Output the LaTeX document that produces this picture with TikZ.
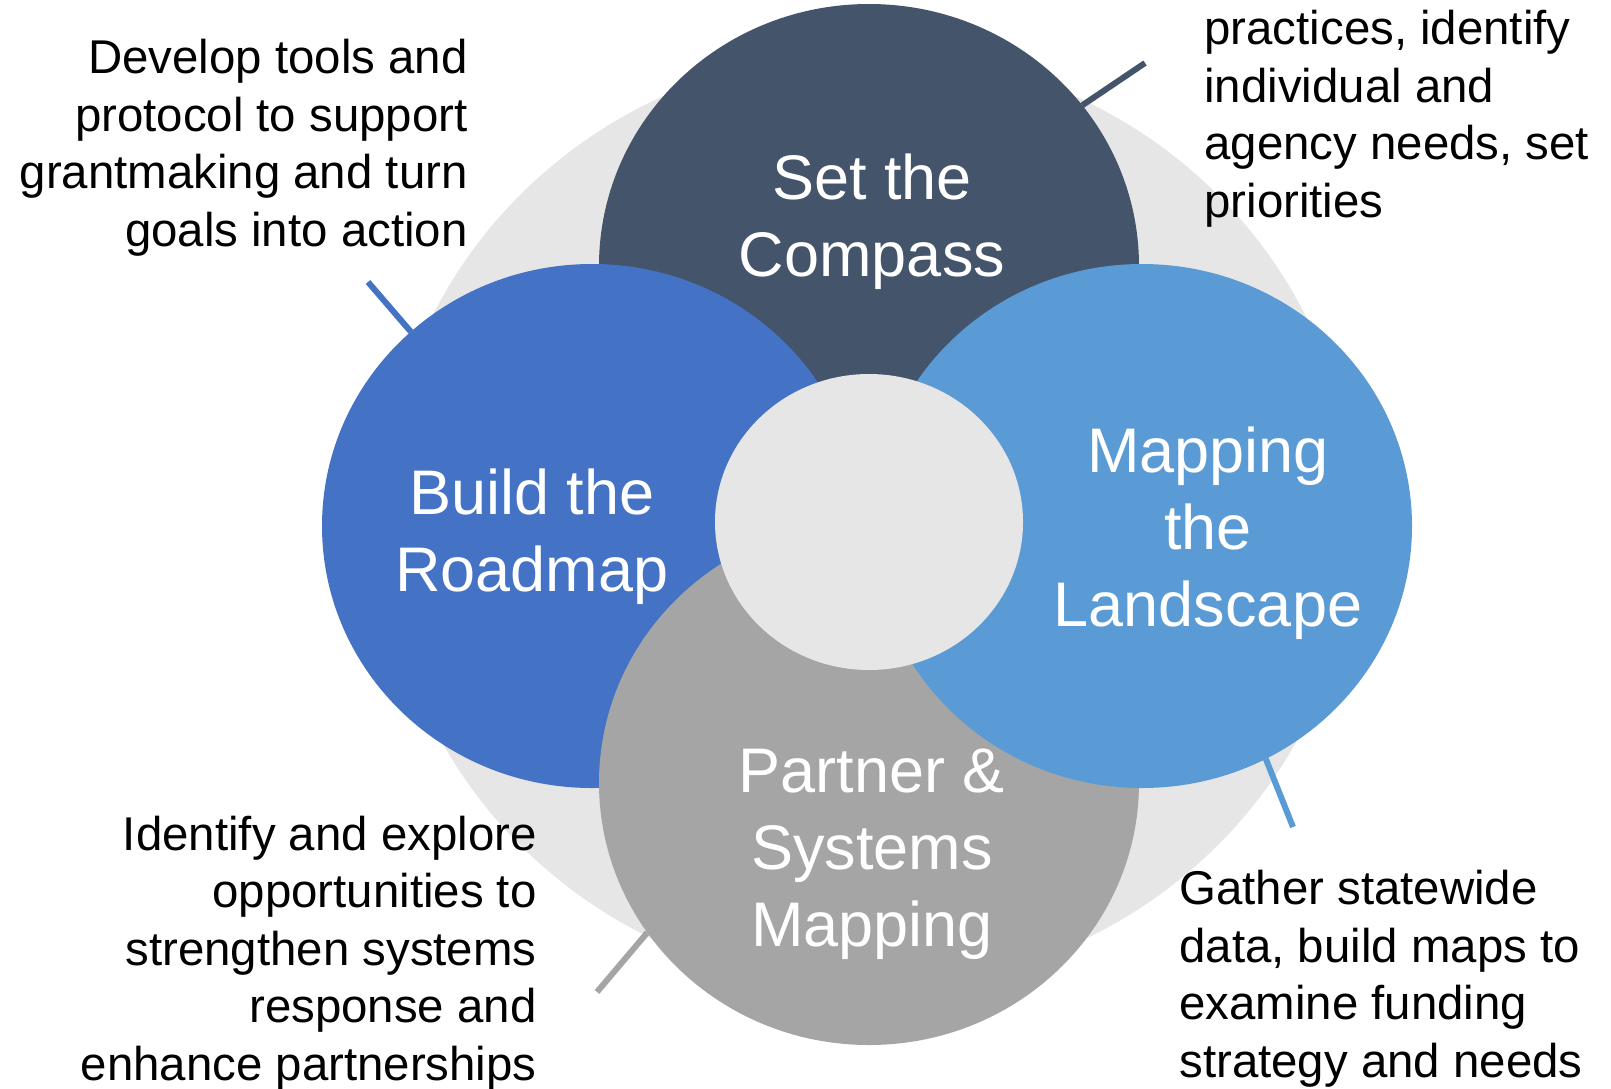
\documentclass[tikz,border=0pt]{standalone}
\usepackage{fontspec}
\setmainfont{Liberation Sans}
\usetikzlibrary{shapes.geometric}

\definecolor{compassFill}{HTML}{44546A}
\definecolor{roadmapFill}{HTML}{4472C4}
\definecolor{landscapeFill}{HTML}{5B9BD5}
\definecolor{partnerFill}{HTML}{A5A5A5}
\definecolor{hazeFill}{HTML}{E7E6E6}

\begin{document}
\begin{tikzpicture}
    [x=0.5pt,y=-0.5pt,
      disc/.style={ellipse,inner sep=0pt,outer sep=0pt,
        minimum width=270pt,minimum height=262pt},
      title/.style={text=white,align=center,inner sep=0pt,
        font=\fontsize{31.5}{38.5}\selectfont},
      note/.style={text=black,inner sep=0pt,
        font=\fontsize{23.7}{28.7}\selectfont},
      tick/.style={line width=3pt}
    ]
    \useasboundingbox (0,0) rectangle (1611,1088);

    \node [ellipse,inner sep=0pt,fill=hazeFill,minimum width=485pt,
      minimum height=468pt] (back) at (869,520) {};
    \node [disc,fill=compassFill] (compass) at (869,266) {};
    \node [disc,fill=roadmapFill] (roadmap) at (592,526) {};
    \node [disc,fill=partnerFill] (partner) at (869,783) {};
    \node [disc,fill=landscapeFill] (landscape) at (1142,526) {};
    \node [ellipse,inner sep=0pt,fill=hazeFill,minimum width=154pt,
      minimum height=148pt] (hub) at (869,522) {};

    \node [title,anchor=base] (tCompass) at (872,276) {Set the\\Compass};
    \node [title,anchor=base] (tRoadmap) at (532,591) {Build the\\Roadmap};
    \node [title,anchor=base] (tLandscape) at (1208,626)
    {Mapping\\the\\Landscape};
    \node [title,anchor=base] (tPartner) at (872,946)
    {Partner \&\\Systems\\Mapping};

    \coordinate (endCompass) at (1145,63);
    \coordinate (endRoadmap) at (368,282);
    \coordinate (endLandscape) at (1293,827);
    \coordinate (endPartner) at (597,992);

    \draw [tick,compassFill] (compass.37.6) -- (endCompass);
    \draw [tick,roadmapFill] (roadmap.133) -- (endRoadmap);
    \draw [tick,landscapeFill] (landscape.-62.9) -- (endLandscape);
    \draw [tick,partnerFill] (partner.214.7) -- (endPartner);

    \node [note,align=right,anchor=base east] (nRoadmap) at (468,246) {
      Develop tools and\\
      protocol to support\\
      grantmaking and turn\\
      goals into action};
    \node [note,align=left,anchor=base west] (nCompass) at (1204,217) {
      practices, identify\\
      individual and\\
      agency needs, set\\
      priorities};
    \node [note,align=right,anchor=base east] (nPartner) at (537,1080) {
      Identify and explore\\
      opportunities to\\
      strengthen systems\\
      response and\\
      enhance partnerships};
    \node [note,align=left,anchor=base west] (nLandscape) at (1179,1077) {
      Gather statewide\\
      data, build maps to\\
      examine funding\\
      strategy and needs};
  \end{tikzpicture}
\end{document}
